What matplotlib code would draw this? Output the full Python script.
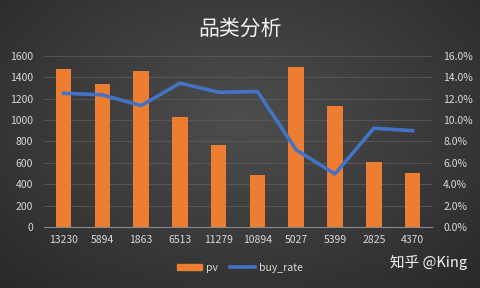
import numpy as np
import matplotlib
matplotlib.use("Agg")
import matplotlib.pyplot as plt
from matplotlib.lines import Line2D
from matplotlib.patches import Patch

plt.rcParams['font.family'] = ['Noto Sans CJK SC', 'DejaVu Sans']

categories = ['13230', '5894', '1863', '6513', '11279', '10894', '5027', '5399', '2825', '4370']
pv = [1480, 1340, 1460, 1030, 770, 490, 1500, 1130, 610, 500]
buy_rate = [0.125, 0.1235, 0.1135, 0.1345, 0.126, 0.1266, 0.072, 0.0496, 0.0923, 0.090]

fig = plt.figure(figsize=(4.8, 2.88), dpi=100)

# radial gradient background
bg = fig.add_axes([0, 0, 1, 1], zorder=-10)
yy, xx = np.mgrid[0:288, 0:480]
r = np.sqrt(((xx - 240) / 300.0) ** 2 + ((yy - 120) / 200.0) ** 2)
val = np.clip(0.305 - 0.125 * r, 0.15, 0.305)
img = np.dstack([val, val, val])
bg.imshow(img, aspect='auto', extent=[0, 1, 0, 1], origin='upper')
bg.axis('off')

ax = fig.add_axes([0.092, 0.212, 0.808, 0.594])
ax.patch.set_alpha(0)
x = np.arange(len(categories))
ax.bar(x, pv, width=0.4, color='#ED7D31', zorder=2)
ax.set_ylim(0, 1600)
ax.set_yticks(range(0, 1601, 200))
ax.set_xlim(-0.5, len(categories) - 0.5)
ax.set_xticks(x)
ax.set_xticklabels(categories)
ax.grid(axis='y', color='#5a5a5a', linewidth=0.6, zorder=0)
for s in ['top', 'right', 'left']:
    ax.spines[s].set_visible(False)
ax.spines['bottom'].set_color('#8a8a8a')
ax.tick_params(axis='both', length=0, colors='#d9d9d9', labelsize=7.5)
ax.tick_params(axis='y', pad=8)
ax.tick_params(axis='x', pad=6)

ax2 = ax.twinx()
ax2.plot(x, buy_rate, color='#4472C4', linewidth=2.6, zorder=3)
ax2.set_ylim(0, 0.16)
ax2.set_yticks(np.arange(0, 0.161, 0.02))
ax2.set_yticklabels([f'{v*100:.1f}%' for v in np.arange(0, 0.161, 0.02)])
for s in ['top', 'right', 'left', 'bottom']:
    ax2.spines[s].set_visible(False)
ax2.tick_params(axis='y', length=0, colors='#d9d9d9', labelsize=7.5, pad=8)

fig.text(0.5, 0.9, '品类分析', ha='center', va='center', color='#f2f2f2', fontsize=15)

handles = [Patch(color='#ED7D31'), Line2D([], [], color='#4472C4', linewidth=2.6)]
fig.legend(handles, ['pv', 'buy_rate'], loc='center', bbox_to_anchor=(0.5, 0.07),
           ncol=2, frameon=False, fontsize=7.5, labelcolor='#d9d9d9',
           handlelength=2.4, handleheight=0.6, columnspacing=1.2, handletextpad=0.4)

fig.text(0.973, 0.09, '知乎 @King', ha='right', va='center', color='#f5f5f5', fontsize=10.5)

fig.savefig('out.png', dpi=100)
